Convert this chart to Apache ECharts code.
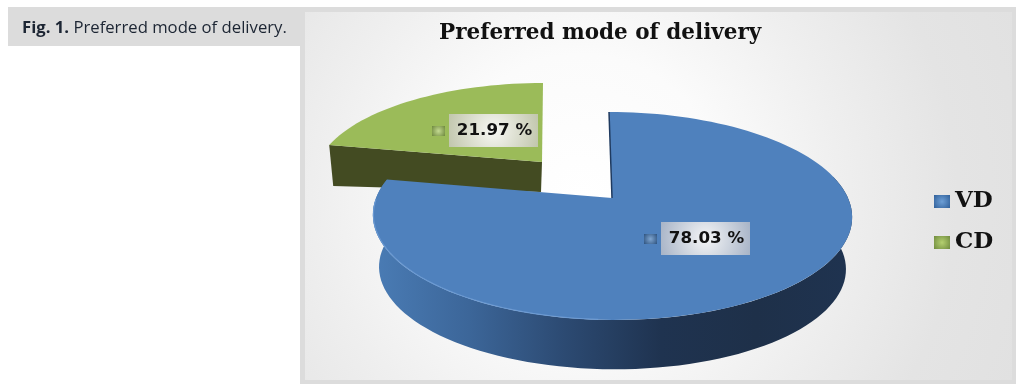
<!DOCTYPE html>
<html><head><meta charset="utf-8">
<style>html,body{margin:0;padding:0;background:#fff}#c{width:1025px;height:390px}</style>
<script src="https://cdn.jsdelivr.net/npm/echarts@6/dist/echarts.min.js"></script>
</head><body><div id="c"></div>
<script>
const categories = ['VD', 'CD'];
const shares = [78.03, 21.97];
const titleText = 'Preferred mode of delivery';
const captionBold = 'Fig. 1.';
const captionText = ' Preferred mode of delivery.';

const total = shares.reduce((a, b) => a + b, 0);
const G = echarts.graphic;
const lin = (x, y, x2, y2, stops) => new G.LinearGradient(x, y, x2, y2, stops.map((c, i) => ({offset: i / (stops.length - 1), color: c})));
const rad = (a, b, r) => new G.RadialGradient(0.5, 0.5, r || 1.4, [{offset: 0, color: a}, {offset: 1, color: b}]);

// perspective view of a flat disc
function view(t, th, r, dy) {
  const x = Math.sin(th) * r, y = -Math.cos(th) * r, d = 1 + t.c * y;
  return [t.cx + t.skew * y + t.k * x / d, (t.cy + t.a * y) / d + (dy || 0)];
}
function arc(t, a, b, r, dy) {
  const out = [], n = Math.ceil(Math.abs(b - a) / 0.04);
  for (let i = 0; i <= n; i++) out.push(view(t, a + (b - a) * i / n, r, dy));
  return out;
}
const styleBy = {
  VD: {
    t: {cx: 612, cy: 198, k: 236, a: 66.6, c: -0.173, skew: 3, depth: 53, rim: 0.975},
    top: '#4f81bd',
    side: lin(0, 0, 1, 0, ['#4a7cb5', '#3c6699', '#2c4a72', '#1f3350', '#1e3049', '#1f3350']),
    label: [706, 239], box: rad('#f4f5f6', '#a9b5c8'), mark: ['#7fa5d0', '#2f5480']
  },
  CD: {
    t: {cx: 542, cy: 162, k: 224, a: 64.6, c: -0.173, skew: -1, depth: 30, rim: 1},
    top: '#9bbb59', sideColor: '#434b22',
    label: [494, 131], box: rad('#f8f8f4', '#c2c7ae'), mark: ['#c4da92', '#6f8a3e']
  }
};

function slice(name, start, end) {
  return function (params, api) {
    const s = styleBy[name], t = s.t, v = api.value(0);
    const a = start * 2 * Math.PI / total, b = end * 2 * Math.PI / total;
    const apex = [t.cx, t.cy];
    const kids = [];
    if (name === 'VD') {
      const front = arc(t, 1.35, b, 1).concat(arc(t, b, 1.35, t.rim, t.depth));
      kids.push({type: 'polygon', shape: {points: front}, style: {fill: s.side}});
    } else {
      const l = view(t, a, 1), l2 = [l[0] + 4, l[1] + 41];
      kids.push({type: 'polygon', shape: {points: [apex, l, l2, [apex[0] - 1, apex[1] + t.depth]]}, style: {fill: s.sideColor}});
    }
    const pts = [apex].concat(arc(t, a, b, 1));
    kids.push({type: 'polygon', shape: {points: pts}, style: {fill: s.top}});
    if (name === 'VD') {
      kids.push({type: 'polyline', shape: {points: arc(t, 3.2, 4.7, 0.998)}, style: {fill: null, stroke: '#6f9ed6', lineWidth: 1.2, opacity: 0.8}});
      kids.push({type: 'polyline', shape: {points: [view(t, 0, 1), apex]}, style: {fill: null, stroke: '#1f3a5f', lineWidth: 1.5}});
    }
    const [lx, ly] = s.label;
    kids.push({type: 'rect', shape: {x: lx - 62, y: ly - 5, width: 13, height: 10}, style: {fill: rad(s.mark[0], s.mark[1], 0.8)}});
    kids.push({type: 'rect', shape: {x: lx - 45, y: ly - 17, width: 89, height: 33}, style: {fill: s.box}});
    kids.push({type: 'text', style: {x: lx + 0.5, y: ly, text: v.toFixed(2) + ' %', fill: '#111', align: 'center', verticalAlign: 'middle', font: 'bold 16.7px "DejaVu Sans"'}});
    return {type: 'group', children: kids};
  };
}

const chart = echarts.init(document.getElementById('c'), null, {renderer: 'canvas'});
chart.setOption({
  animation: false,
  title: {text: titleText, left: 434, top: 17, textStyle: {fontFamily: '"DejaVu Serif"', fontWeight: 'bold', fontSize: 21.5, color: '#111'}},
  legend: {
    orient: 'vertical', left: 929, top: 185, itemWidth: 16, itemHeight: 13, itemGap: 18,
    selectedMode: false,
    textStyle: {fontFamily: '"DejaVu Serif"', fontWeight: 'bold', fontSize: 23, color: '#111', padding: [0, 0, 0, 0]},
    data: [
      {name: categories[0], icon: 'rect', itemStyle: {color: rad('#6d9fd6', '#2f5f99', 0.8)}},
      {name: categories[1], icon: 'rect', itemStyle: {color: rad('#b4d070', '#6f8a3e', 0.8)}}
    ]
  },
  graphic: [
    {type: 'rect', z: -3, shape: {x: 8, y: 7, width: 292, height: 39}, style: {fill: '#dcdcdc'}},
    {type: 'rect', z: -3, shape: {x: 300, y: 7, width: 716, height: 377}, style: {fill: '#dcdcdc'}},
    {type: 'rect', z: -2, shape: {x: 305, y: 12, width: 707, height: 368}, style: {fill: new G.RadialGradient(0.39, 0.5, 1.28, [
      {offset: 0, color: '#ffffff'}, {offset: 0.3, color: '#fbfbfb'}, {offset: 0.55, color: '#efefef'}, {offset: 0.8, color: '#e4e4e4'}, {offset: 1, color: '#e1e1e1'}])}},
    {type: 'text', z: -1, style: {x: 22, y: 28, verticalAlign: 'middle', text: '{b|' + captionBold + '}{n|' + captionText + '}', rich: {
      b: {fill: '#1c2533', fontWeight: 'bold', fontSize: 16.7, fontFamily: 'Open Sans'},
      n: {fill: '#1c2533', fontSize: 16.7, fontFamily: 'Open Sans'}}}}
  ],
  series: [
    {type: 'custom', name: categories[1], coordinateSystem: 'none', z: 2, itemStyle: {color: '#9bbb59'}, data: [{name: categories[1], value: [shares[1]]}], renderItem: slice('CD', shares[0], total), silent: true},
    {type: 'custom', name: categories[0], coordinateSystem: 'none', z: 3, itemStyle: {color: '#4f81bd'}, data: [{name: categories[0], value: [shares[0]]}], renderItem: slice('VD', 0, shares[0]), silent: true}
  ]
});
</script></body></html>
